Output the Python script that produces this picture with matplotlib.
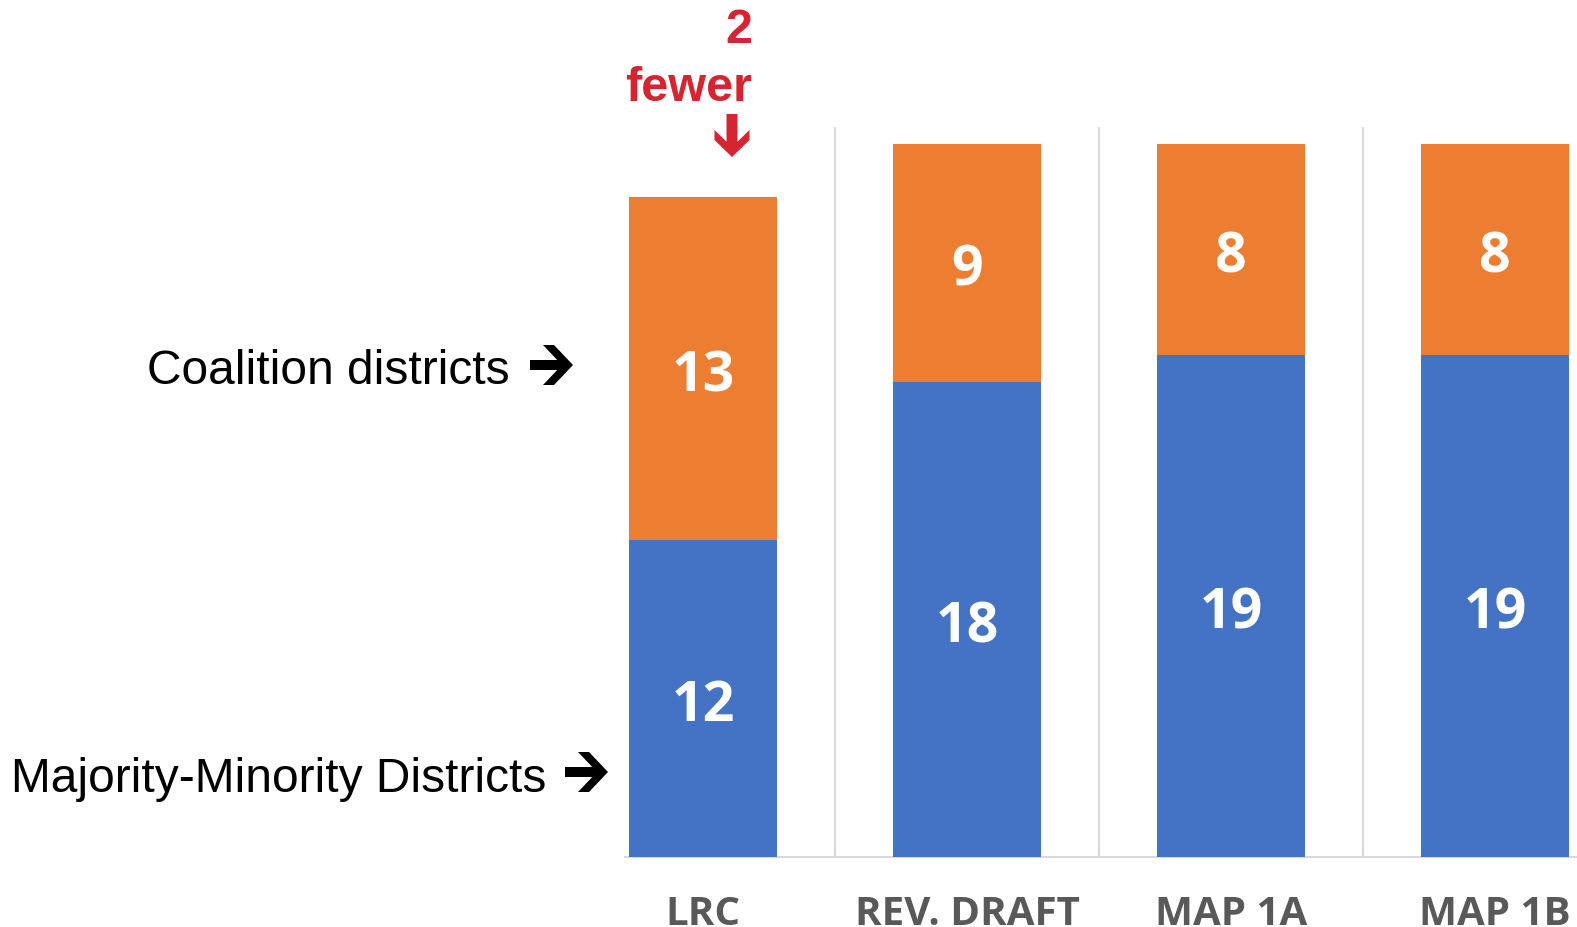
import matplotlib.pyplot as plt
from matplotlib.patches import Polygon
import numpy as np

# data
plans = ['LRC', 'REV. DRAFT', 'MAP 1A', 'MAP 1B']
majority_minority = [12, 18, 19, 19]
coalition = [13, 9, 8, 8]

blue = '#4472C4'
orange = '#ED7D31'
red = '#D42530'

W, H = 1577, 928
fig = plt.figure(figsize=(W / 100, H / 100), dpi=100)


def fx(px):
    return px / W


def fy(py):
    return 1 - py / H


def heavy_arrow(x0, y0, x1, y1, width, shaft, head, arm, color):
    # chevron-headed arrow from (x0,y0) tail to (x1,y1) tip, pixel coords from top-left
    L = np.hypot(x1 - x0, y1 - y0)
    w2, s = width / 2, shaft / 2
    notch = L - head - arm + (w2 - s) * head / w2
    pts = [(L, 0), (L - head, w2), (L - head - arm, w2), (notch, s), (0, s),
           (0, -s), (notch, -s), (L - head - arm, -w2), (L - head, -w2)]
    ux, uy = (x1 - x0) / L, (y1 - y0) / L
    vx, vy = -uy, ux
    poly = [(fx(x0 + u * ux + v * vx), fy(y0 + u * uy + v * vy)) for u, v in pts]
    fig.patches.append(Polygon(poly, closed=True, color=color, lw=0,
                               transform=fig.transFigure, figure=fig))


# axes placed in pixel terms of the reference
ax_l, ax_r, ax_t, ax_b = 625, 1577, 128, 858
ax = fig.add_axes([fx(ax_l), fy(ax_b), (ax_r - ax_l) / W, (ax_b - ax_t) / H])

x = list(range(len(plans)))
width = 0.557
ax.bar(x, majority_minority, width, color=blue, zorder=3)
ax.bar(x, coalition, width, bottom=majority_minority, color=orange, zorder=3)

# value labels (baseline set so the digits sit on the segment middle)
for i in x:
    b, c = majority_minority[i], coalition[i]
    for val, mid in [(b, b / 2), (c, b + c / 2)]:
        ax.annotate(str(val), (i, mid), xytext=(0, -15.7), textcoords='offset points',
                    ha='center', va='baseline', color='white', fontsize=40,
                    fontweight='bold', family='Open Sans', zorder=4)

# category separators
for s in [0.5, 1.5, 2.5]:
    ax.axvline(s, color='#D9D9D9', lw=1.5, zorder=1)

ax.set_xlim(-0.2955, 3.3106)
ax.set_ylim(0, 27.65)
for sp in ['top', 'right', 'left']:
    ax.spines[sp].set_visible(False)
ax.spines['bottom'].set_color('#D9D9D9')
ax.spines['bottom'].set_linewidth(1.5)
ax.set_yticks([])
ax.set_xticks([])

# category labels below
for i, name in enumerate(plans):
    ax.annotate(name, (i, 0), xytext=(0, -48.5), textcoords='offset points',
                ha='center', va='baseline', color='#595959', fontsize=29,
                fontweight='bold', family='Open Sans', annotation_clip=False)

# left side annotations
fam = ['Liberation Sans', 'DejaVu Sans']
fig.text(fx(510), fy(384), 'Coalition districts', ha='right', va='baseline',
         fontsize=34.5, family=fam, color='black')
heavy_arrow(530, 366, 573, 366, 40, 10, 19, 11, 'black')
fig.text(fx(546), fy(792), 'Majority-Minority Districts', ha='right', va='baseline',
         fontsize=34.5, family=fam, color='black')
heavy_arrow(565, 773, 608, 773, 40, 10, 19, 11, 'black')

# "2 fewer" callout
fig.text(fx(752), fy(43), '2', ha='right', va='baseline', fontsize=35,
         fontweight='bold', family=fam, color=red)
fig.text(fx(752), fy(101), 'fewer', ha='right', va='baseline', fontsize=35,
         fontweight='bold', family=fam, color=red)
heavy_arrow(732, 115, 732, 158, 35, 11, 17, 10, red)

fig.savefig('out.png', dpi=100)
